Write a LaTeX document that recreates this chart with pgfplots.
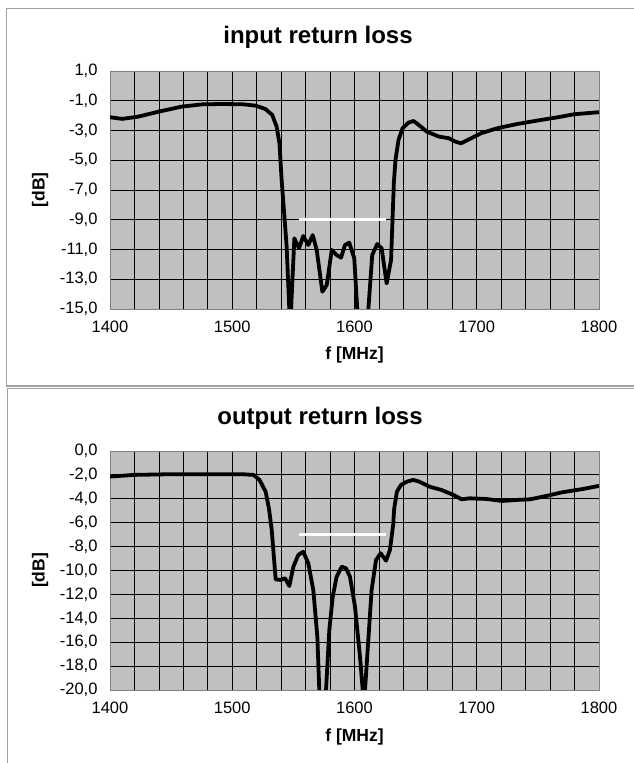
\documentclass[border=0pt]{standalone}
\usepackage{fontspec}
\setmainfont{Liberation Sans}
\usepackage{pgfplots}
\pgfplotsset{compat=1.18}

\definecolor{plotbg}{RGB}{192,192,192}
\definecolor{framegray}{RGB}{160,160,160}

\pgfplotsset{
  rlstyle/.style={
    scale only axis,
    width=489pt, height=238pt,
    anchor=south west,
    xmin=1400, xmax=1800,
    xtick={1400,1500,1600,1700,1800},
    xticklabels={1400,1500,1600,1700,1800},
    minor xtick={1420,1440,1460,1480,1520,1540,1560,1580,1620,1640,1660,1680,1720,1740,1760,1780},
    xmajorgrids, xminorgrids, ymajorgrids,
    grid style={black, line width=0.8pt},
    minor grid style={black, line width=0.8pt},
    major tick length=0pt, minor tick length=0pt,
    axis line style={draw=gray, line width=0.8pt},
    axis background/.style={fill=plotbg},
    ticklabel style={font=\fontsize{16.5}{18}\selectfont},
    xticklabel style={yshift=-8pt},
    yticklabel style={xshift=-9pt},
    label style={font=\bfseries\fontsize{17.5}{20}\selectfont},
    xlabel={f [MHz]},
    ylabel={[dB]},
    xlabel style={at={(axis description cs:0.5,-0.195)}, anchor=center},
    ylabel style={at={(axis description cs:-0.143,0.5)}, anchor=center, rotate=0},
    clip=true,
  },
  curve/.style={black, line width=3.8pt, line join=round},
  limitline/.style={white, line width=3.3pt},
}

\begin{document}
\begin{tikzpicture}
\path[use as bounding box] (0pt,0pt) rectangle (634pt,763pt);

% frames round the two charts
\draw[framegray, line width=1.3pt] (640pt,754.7pt) -- (6.7pt,754.7pt) -- (6.7pt,377pt) -- (640pt,377pt);
\draw[framegray, line width=1.3pt] (640pt,374.7pt) -- (7.3pt,374.7pt) -- (7.3pt,-5pt);

\node[font=\bfseries\fontsize{24}{27}\selectfont] at (318pt,726pt) {input return loss};
\node[font=\bfseries\fontsize{24}{27}\selectfont] at (320pt,345pt) {output return loss};

\begin{axis}[rlstyle, at={(110pt,454pt)},
  ymin=-15, ymax=1,
  ytick={1,-1,-3,-5,-7,-9,-11,-13,-15},
  yticklabels={{1,0},{-1,0},{-3,0},{-5,0},{-7,0},{-9,0},{-11,0},{-13,0},{-15,0}},
]
\addplot[curve] coordinates {
(1400,-2.11) (1410,-2.22) (1423,-2.07) (1440,-1.73) (1459,-1.39) (1476,-1.24)
(1492,-1.22) (1509,-1.24) (1519,-1.33) (1527,-1.55) (1532.7,-1.95) (1536.3,-2.74)
(1538.6,-3.86) (1540.4,-6.33) (1542.5,-8.6) (1544.5,-10.81) (1546.7,-15.07) (1547.4,-16.4)
(1548.1,-15.07) (1550.8,-10.25) (1554.6,-10.92) (1558.1,-10.09) (1562.2,-10.70)
(1565.8,-10.03) (1569.1,-11.03) (1573.7,-13.84) (1577.3,-13.39) (1581.4,-11.03)
(1585.4,-11.37) (1589,-11.55) (1592.2,-10.70) (1595.7,-10.54) (1599.8,-11.59)
(1602.3,-15.07) (1607,-21.5) (1611.3,-15.07) (1614.5,-11.37) (1618.6,-10.63)
(1622.2,-10.92) (1626.3,-13.28) (1629.9,-11.71) (1632.2,-6.5) (1633.5,-5.0)
(1636,-3.63) (1639.3,-2.85) (1644.2,-2.47) (1648.2,-2.36) (1652.5,-2.62)
(1659,-3.07) (1669,-3.41) (1677.2,-3.52) (1682.2,-3.74) (1687.1,-3.86)
(1693.7,-3.59) (1703.6,-3.18) (1716.8,-2.85) (1733.3,-2.56) (1749.8,-2.33)
(1766.3,-2.11) (1779.5,-1.91) (1800,-1.77)
};
\addplot[limitline] coordinates {(1555,-9) (1626,-9)};
\end{axis}

\begin{axis}[rlstyle, at={(110pt,73pt)}, height=239pt,
  ymin=-20, ymax=0,
  ytick={0,-2,-4,-6,-8,-10,-12,-14,-16,-18,-20},
  yticklabels={{0,0},{-2,0},{-4,0},{-6,0},{-8,0},{-10,0},{-12,0},{-14,0},{-16,0},{-18,0},{-20,0}},
]
\addplot[curve] coordinates {
(1400,-2.14) (1420,-2.0) (1446,-1.95) (1476,-1.95) (1509,-1.95) (1517.4,-2.0)
(1522.3,-2.42) (1527.3,-3.40) (1530,-4.8) (1532.3,-6.61) (1533.6,-8.28)
(1535.5,-10.74) (1539.6,-10.79) (1543.2,-10.65) (1546.7,-11.30) (1550,-9.68)
(1554,-8.70) (1558.1,-8.43) (1562.2,-9.40) (1566.3,-11.63) (1569.6,-15.54)
(1571.2,-20) (1573.4,-26) (1576.7,-20) (1579.4,-14.98) (1582.2,-12.19)
(1585.4,-10.52) (1589.5,-9.68) (1593.1,-9.82) (1596.3,-10.52) (1600.4,-13.03)
(1604.5,-17.21) (1606.7,-20) (1607.7,-21.3) (1608.6,-20) (1611.3,-15.82)
(1614,-11.63) (1617.6,-9.12) (1621.4,-8.56) (1625.8,-9.18) (1629,-8.28)
(1631.6,-6.2) (1632.5,-4.79) (1634.7,-3.40) (1638,-2.84) (1643,-2.56) (1648,-2.42)
(1652.9,-2.56) (1661.2,-2.98) (1671.1,-3.26) (1681,-3.68) (1687.6,-4.04)
(1694.2,-3.96) (1707.4,-4.01) (1720.7,-4.18) (1733.9,-4.09) (1743.8,-4.04)
(1757,-3.76) (1770.2,-3.45) (1786.8,-3.18) (1800,-2.92)
};
\addplot[limitline] coordinates {(1555,-7) (1626,-7)};
\end{axis}
\end{tikzpicture}
\end{document}
